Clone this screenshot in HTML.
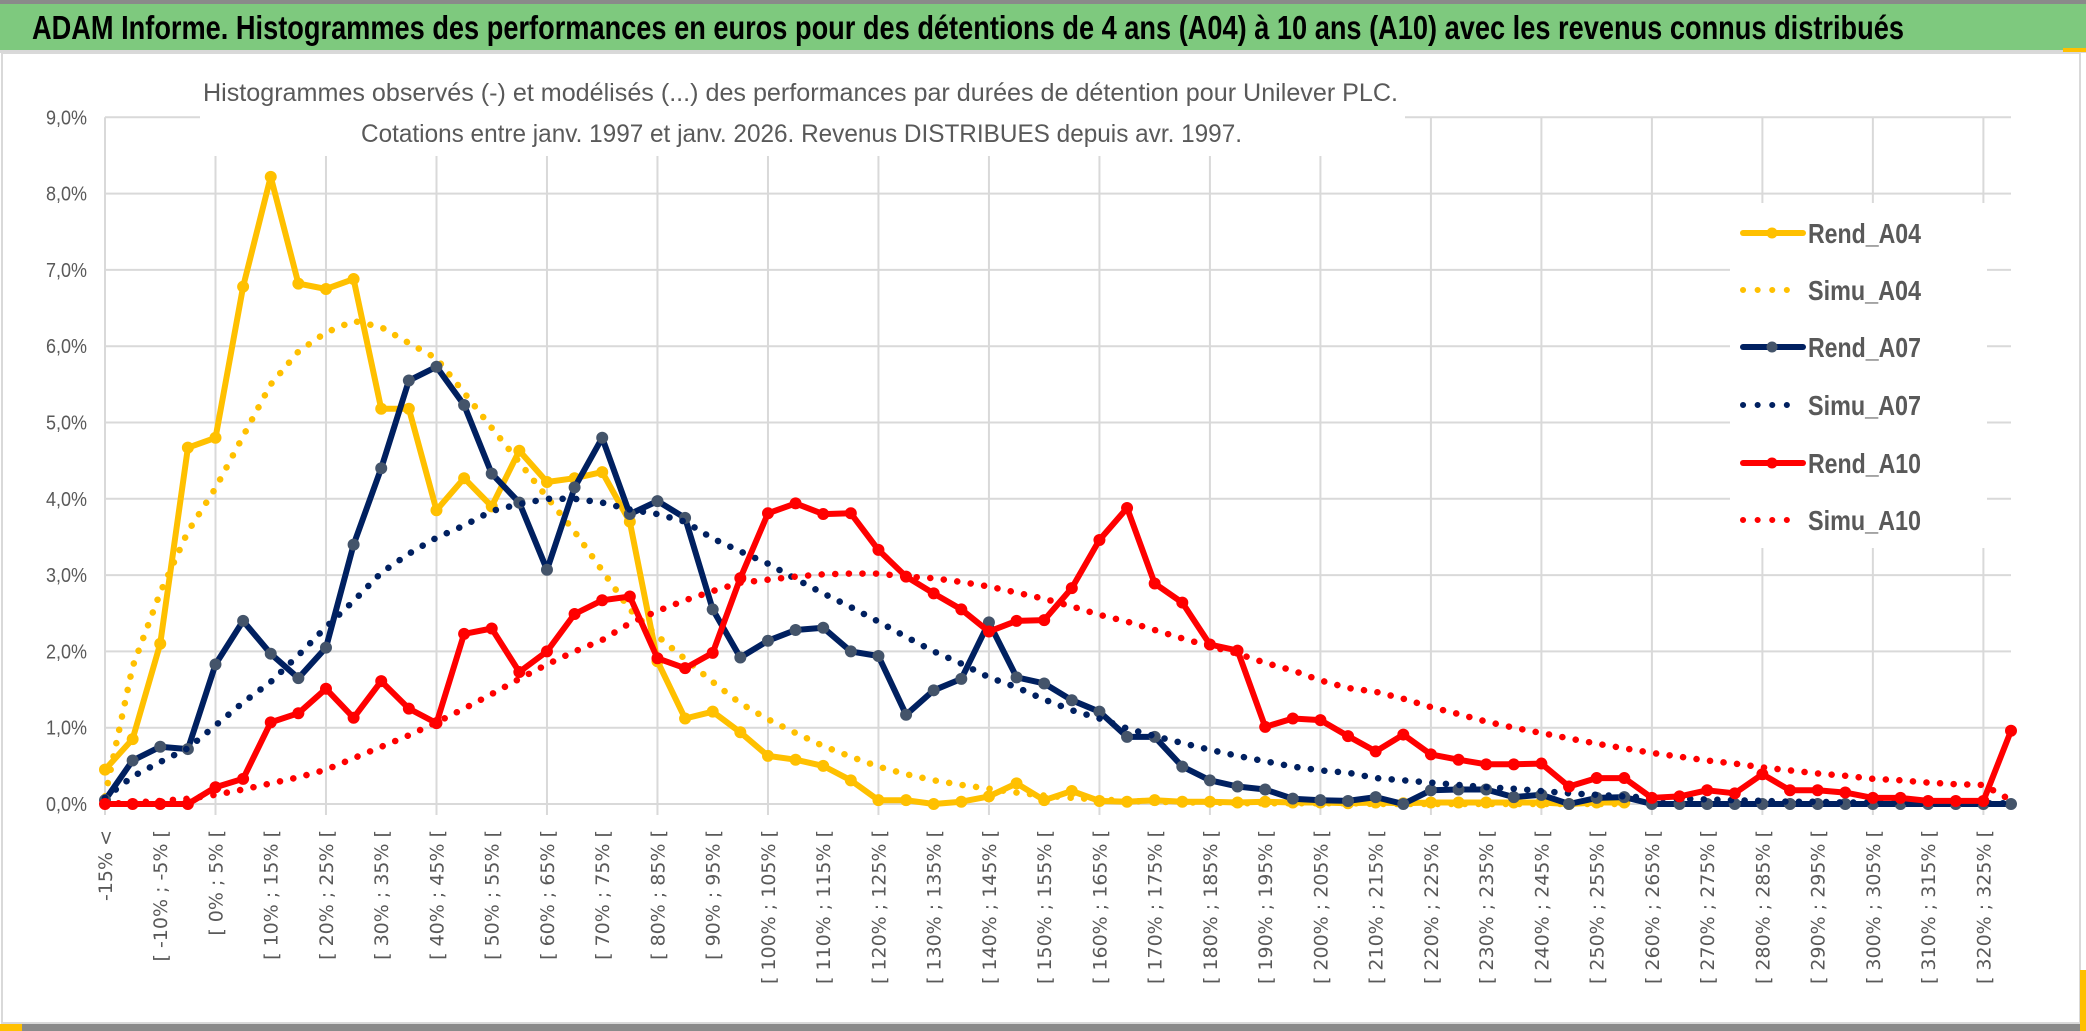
<!DOCTYPE html>
<html><head><meta charset="utf-8"><title>ADAM Informe - Unilever PLC</title>
<style>
html,body{margin:0;padding:0;background:#fff;}
svg{display:block;}
</style></head>
<body>
<svg id="chart" width="2086" height="1031" viewBox="0 0 2086 1031" xmlns="http://www.w3.org/2000/svg">
  <rect x="0" y="0" width="2086" height="1031" fill="#ffffff"/>
  <rect x="0" y="0" width="2086" height="4" fill="#8a8a8a"/>
  <rect x="0" y="4" width="2086" height="46" fill="#7ec97e"/>
  <rect x="0" y="50" width="2086" height="3" fill="#d8d8d8"/>
  <text x="32" y="39" font-family="Liberation Sans, sans-serif" font-weight="bold" font-size="33" fill="#000" textLength="1872" lengthAdjust="spacingAndGlyphs">ADAM Informe. Histogrammes des performances en euros pour des détentions de 4 ans (A04) à 10 ans (A10) avec les revenus connus distribués</text>
  <rect x="2" y="53" width="2078" height="970" fill="none" stroke="#d9d9d9" stroke-width="2"/>
  <rect x="0" y="1024" width="2086" height="7" fill="#8a8a8a"/>
  <rect x="0" y="1024" width="22" height="7" fill="#ffc000"/>
  <rect x="2080" y="970" width="6" height="61" fill="#ffc000"/>
  <rect x="2063" y="48" width="23" height="4" fill="#ffc000"/>
  <g id="grid"></g>
  <g id="yaxis"></g>
  <g id="xaxis"></g>
  <g id="series"></g>
  <rect x="200" y="58" width="1205" height="98" fill="#fff"/>
  <text x="203" y="101" font-family="Liberation Sans, sans-serif" font-size="25" fill="#595959" textLength="1195" lengthAdjust="spacingAndGlyphs">Histogrammes observés (-) et modélisés (...) des performances par durées de détention pour Unilever PLC.</text>
  <text x="361" y="142" font-family="Liberation Sans, sans-serif" font-size="25" fill="#595959" textLength="881" lengthAdjust="spacingAndGlyphs">Cotations entre janv. 1997 et janv. 2026. Revenus DISTRIBUES depuis avr. 1997.</text>
  <rect x="1730" y="203" width="257" height="345" fill="#fff"/>
  <g id="legend"></g>
</svg>
<script>
const categories = ["-15% <","[ -15% ; -10% [","[ -10% ; -5% [","[ -5% ; 0% [","[ 0% ; 5% [","[ 5% ; 10% [","[ 10% ; 15% [","[ 15% ; 20% [","[ 20% ; 25% [","[ 25% ; 30% [",
"[ 30% ; 35% [","[ 35% ; 40% [","[ 40% ; 45% [","[ 45% ; 50% [","[ 50% ; 55% [","[ 55% ; 60% [","[ 60% ; 65% [","[ 65% ; 70% [","[ 70% ; 75% [","[ 75% ; 80% [",
"[ 80% ; 85% [","[ 85% ; 90% [","[ 90% ; 95% [","[ 95% ; 100% [","[ 100% ; 105% [","[ 105% ; 110% [","[ 110% ; 115% [","[ 115% ; 120% [","[ 120% ; 125% [","[ 125% ; 130% [",
"[ 130% ; 135% [","[ 135% ; 140% [","[ 140% ; 145% [","[ 145% ; 150% [","[ 150% ; 155% [","[ 155% ; 160% [","[ 160% ; 165% [","[ 165% ; 170% [","[ 170% ; 175% [","[ 175% ; 180% [",
"[ 180% ; 185% [","[ 185% ; 190% [","[ 190% ; 195% [","[ 195% ; 200% [","[ 200% ; 205% [","[ 205% ; 210% [","[ 210% ; 215% [","[ 215% ; 220% [","[ 220% ; 225% [","[ 225% ; 230% [",
"[ 230% ; 235% [","[ 235% ; 240% [","[ 240% ; 245% [","[ 245% ; 250% [","[ 250% ; 255% [","[ 255% ; 260% [","[ 260% ; 265% [","[ 265% ; 270% [","[ 270% ; 275% [","[ 275% ; 280% [",
"[ 280% ; 285% [","[ 285% ; 290% [","[ 290% ; 295% [","[ 295% ; 300% [","[ 300% ; 305% [","[ 305% ; 310% [","[ 310% ; 315% [","[ 315% ; 320% [","[ 320% ; 325% [","[ 325% ; 330% ["];
const yTicks = [0,1,2,3,4,5,6,7,8,9];
const yTickLabels = ["0,0%","1,0%","2,0%","3,0%","4,0%","5,0%","6,0%","7,0%","8,0%","9,0%"];
const rendA04 = [0.45,0.85,2.1,4.67,4.8,6.78,8.22,6.82,6.75,6.88,
5.18,5.18,3.85,4.27,3.9,4.63,4.22,4.27,4.35,3.7,
1.87,1.12,1.21,0.94,0.63,0.58,0.5,0.31,0.05,0.05,
0,0.03,0.1,0.27,0.05,0.17,0.04,0.03,0.05,0.03,
0.03,0.02,0.03,0.02,0.02,0.01,0.02,0.01,0.02,0.02,
0.02,0.02,0.02,0,0.02,0.02];
const simuA04 = [0.1,1.8,2.77,3.57,4.14,4.82,5.5,5.93,6.18,6.33,
6.25,6.04,5.84,5.39,4.93,4.48,4.02,3.57,3.06,2.55,
2.2,1.9,1.6,1.32,1.11,0.93,0.76,0.62,0.49,0.39,
0.31,0.25,0.2,0.15,0.11,0.08,0.06,0.04,0.03,0.02,
0.02,0.01,0.01,0.01,0.01,0.01,0,0,0,0,
0,0,0,0,0,0];
const rendA07 = [0.05,0.57,0.75,0.72,1.83,2.4,1.97,1.65,2.05,3.4,
4.4,5.55,5.73,5.23,4.33,3.95,3.07,4.15,4.8,3.8,
3.97,3.75,2.55,1.92,2.14,2.28,2.31,2.0,1.94,1.17,
1.49,1.64,2.38,1.66,1.58,1.36,1.21,0.88,0.88,0.49,
0.31,0.23,0.19,0.07,0.05,0.04,0.09,0,0.18,0.19,
0.19,0.09,0.12,0,0.08,0.09,0,0,0,0,
0,0,0,0,0,0,0,0,0,0];
const simuA07 = [0.08,0.36,0.55,0.73,1.03,1.33,1.6,1.95,2.32,2.66,
3.03,3.28,3.49,3.65,3.84,3.93,4.0,4.0,3.95,3.86,
3.8,3.7,3.48,3.31,3.15,2.95,2.76,2.58,2.39,2.19,
2.0,1.84,1.66,1.53,1.37,1.23,1.12,0.99,0.89,0.8,
0.71,0.63,0.56,0.49,0.44,0.41,0.34,0.31,0.28,0.25,
0.22,0.2,0.17,0.14,0.12,0.1,0.08,0.07,0.06,0.05,
0.04,0.03,0.03,0.02,0.02,0.02,0.01,0.01,0.01,0.01];
const rendA10 = [0,0,0,0,0.22,0.33,1.07,1.19,1.51,1.13,
1.61,1.25,1.06,2.23,2.30,1.73,2.0,2.49,2.67,2.72,
1.91,1.78,1.98,2.96,3.81,3.94,3.80,3.81,3.33,2.98,
2.76,2.55,2.26,2.40,2.41,2.83,3.46,3.88,2.89,2.64,
2.09,2.01,1.01,1.12,1.10,0.89,0.69,0.91,0.65,0.58,
0.52,0.52,0.53,0.23,0.34,0.34,0.08,0.1,0.18,0.14,
0.39,0.18,0.18,0.15,0.08,0.08,0.04,0.04,0.04,0.96];
const simuA10 = [0,0.02,0.04,0.07,0.12,0.19,0.27,0.35,0.45,0.6,
0.75,0.9,1.07,1.25,1.44,1.64,1.83,2.0,2.15,2.37,
2.53,2.67,2.79,2.9,2.94,2.98,3.01,3.02,3.02,2.98,
2.96,2.91,2.85,2.77,2.69,2.59,2.48,2.39,2.28,2.17,
2.07,1.97,1.85,1.75,1.62,1.52,1.47,1.38,1.27,1.18,
1.08,1.0,0.93,0.86,0.79,0.73,0.67,0.62,0.57,0.53,
0.48,0.44,0.4,0.37,0.33,0.31,0.28,0.26,0.25,0.05];
const seriesNames = ["Rend_A04","Simu_A04","Rend_A07","Simu_A07","Rend_A10","Simu_A10"];

const NS = "http://www.w3.org/2000/svg";
const X0 = 105, X1 = 2011, Y0 = 804, PX_PER_PCT = 76.3;
function xPos(i){ return X0 + i * (X1 - X0) / (categories.length - 1); }
function yPos(v){ return Y0 - v * PX_PER_PCT; }
function mk(tag, attrs, parent){
  const e = document.createElementNS(NS, tag);
  for (const k in attrs) e.setAttribute(k, attrs[k]);
  parent.appendChild(e);
  return e;
}
const grid = document.getElementById('grid');
const yaxis = document.getElementById('yaxis');
const xaxis = document.getElementById('xaxis');
const layer = document.getElementById('series');
const legend = document.getElementById('legend');

yTicks.forEach((t, k) => {
  const ln = mk('line', {x1: X0, x2: X1, y1: yPos(t), y2: yPos(t), stroke: '#d9d9d9', 'stroke-width': 2}, grid);
  
  
  const tx = mk('text', {x: 87, y: yPos(t) + 7, 'text-anchor': 'end', 'font-family': 'Liberation Sans, sans-serif', 'font-size': 20, fill: '#595959', textLength: 41, lengthAdjust: 'spacingAndGlyphs'}, yaxis);
  tx.textContent = yTickLabels[k];
  
  
});
for (let i = 0; i < categories.length; i += 4) {
  const ln = mk('line', {x1: xPos(i), x2: xPos(i), y1: yPos(9), y2: Y0 + 11, stroke: '#d9d9d9', 'stroke-width': 2}, grid);
  
  
}
categories.forEach((c, i) => {
  if (i % 2 !== 0) return;
  const x = xPos(i) + 7, y = 830;
  const tx = mk('text', {x: x, y: y, transform: 'rotate(-90 ' + x + ' ' + y + ')', 'text-anchor': 'end', 'font-family': 'DejaVu Sans, sans-serif', 'font-size': 19, fill: '#595959'}, xaxis);
  tx.textContent = c;
  
  
});

function drawSolid(vals, color, markerFill, name){
  const g = mk('g', {}, layer);
  
  
  const pts = vals.map((v, i) => xPos(i).toFixed(1) + ',' + yPos(v).toFixed(1)).join(' ');
  const pl = mk('polyline', {points: pts, fill: 'none', stroke: color, 'stroke-width': 6, 'stroke-linejoin': 'round', 'stroke-linecap': 'round'}, g);
  
  
  vals.forEach((v, i) => {
    const c = mk('circle', {cx: xPos(i), cy: yPos(v), r: 5.5, fill: markerFill, stroke: markerFill, 'stroke-width': 1}, g);
    
    
  });
}
function drawDotted(vals, color, name){
  const pts = vals.map((v, i) => xPos(i).toFixed(1) + ',' + yPos(v).toFixed(1)).join(' ');
  const pl = mk('polyline', {points: pts, fill: 'none', stroke: color, 'stroke-width': 6.5, 'stroke-dasharray': '0.1 13.5', 'stroke-linecap': 'round', 'stroke-linejoin': 'round'}, layer);
  
  
}
drawSolid(rendA04, '#ffc000', '#ffc000', 'rend-a04');
drawDotted(simuA04, '#ffc000', 'simu-a04');
drawSolid(rendA07, '#002060', '#44546a', 'rend-a07');
drawDotted(simuA07, '#002060', 'simu-a07');
drawSolid(rendA10, '#ff0000', '#ff0000', 'rend-a10');
drawDotted(simuA10, '#ff0000', 'simu-a10');

const legendY = [233, 290, 347, 405, 463, 520];
const legendColors = ['#ffc000','#ffc000','#002060','#002060','#ff0000','#ff0000'];
const legendMarkers = ['#ffc000', null, '#44546a', null, '#ff0000', null];
seriesNames.forEach((n, k) => {
  const y = legendY[k];
  const g = mk('g', {}, legend);
  
  
  if (legendMarkers[k]) {
    mk('line', {x1: 1743, x2: 1803, y1: y, y2: y, stroke: legendColors[k], 'stroke-width': 6, 'stroke-linecap': 'round'}, g);
    mk('circle', {cx: 1772, cy: y, r: 5.5, fill: legendMarkers[k]}, g);
  } else {
    const end = k === 5 ? 1800 : 1790;
    mk('line', {x1: 1743, x2: end, y1: y, y2: y, stroke: legendColors[k], 'stroke-width': 6, 'stroke-dasharray': '0.1 14.5', 'stroke-linecap': 'round'}, g);
  }
  const tx = mk('text', {x: 1808, y: y + 10, 'font-family': 'Liberation Sans, sans-serif', 'font-weight': 'bold', 'font-size': 28, fill: '#595959', textLength: 113, lengthAdjust: 'spacingAndGlyphs'}, g);
  tx.textContent = n;
  
  
});
</script>
</body></html>
